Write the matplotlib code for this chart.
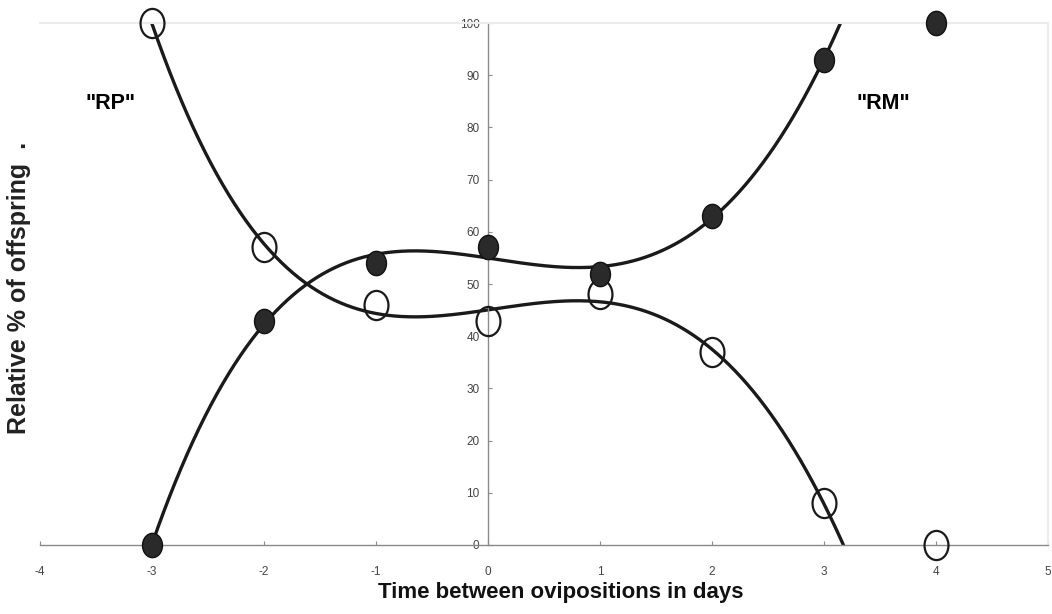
import numpy as np
import matplotlib
matplotlib.use("Agg")
import matplotlib.pyplot as plt
from matplotlib.path import Path
from matplotlib.transforms import Affine2D

# data
days = [-3, -2, -1, 0, 1, 2, 3, 4]
rp = [100, 57, 46, 43, 48, 37, 8, 0]
rm = [0, 43, 54, 57, 52, 63, 93, 100]
xticks = [-4, -3, -2, -1, 0, 1, 2, 3, 4, 5]
yticks = [0, 10, 20, 30, 40, 50, 60, 70, 80, 90, 100]

plt.rcParams['font.family'] = ['Liberation Sans', 'DejaVu Sans']
plt.rcParams['axes.unicode_minus'] = False

fig = plt.figure(figsize=(10.52, 6.14), dpi=100)
ax = fig.add_axes([0.038, 0.1124, 0.958, 0.8501])
ax.set_xlim(-4, 5)
ax.set_ylim(0, 100)

# spines through the origin, faint frame on top / right
ax.spines['left'].set_position(('data', 0))
ax.spines['bottom'].set_position(('data', 0))
for s in ['left', 'bottom']:
    ax.spines[s].set_color('#8a8a8a')
    ax.spines[s].set_linewidth(1.0)
for s in ['top', 'right']:
    ax.spines[s].set_color('#ececec')
    ax.spines[s].set_linewidth(1.5)

ax.set_xticks(xticks)
ax.set_yticks(yticks)
ax.tick_params(axis='both', colors='#8a8a8a', labelcolor='#444444',
               labelsize=8.5, length=3, direction='in')
ax.tick_params(axis='x', pad=15)
ax.tick_params(axis='y', pad=6)

# polynomial trendlines (fit to -3..3)
xx = np.linspace(-3, 4, 400)
c_rp = np.polyfit(days[:7], rp[:7], 4)
c_rm = np.polyfit(days[:7], rm[:7], 4)
ax.plot(xx, np.polyval(c_rp, xx), color='#1a1a1a', lw=2.4, zorder=2)
ax.plot(xx, np.polyval(c_rm, xx), color='#1a1a1a', lw=2.4, zorder=2)

# slightly tall elliptical markers
oval = Path.unit_circle().transformed(Affine2D().scale(0.82, 1.0))
ax.plot(days, rp, linestyle='none', marker=oval, markersize=21,
        mfc='none', mec='#1a1a1a', mew=1.6, clip_on=False, zorder=3)
ax.plot(days, rm, linestyle='none', marker=oval, markersize=17.5,
        mfc='#2a2a2a', mec='#111111', mew=1.0, clip_on=False, zorder=3)

ax.text(-3.37, 84.5, '"RP"', fontsize=15.5, fontweight='bold', ha='center', va='center')
ax.text(3.53, 84.5, '"RM"', fontsize=15.5, fontweight='bold', ha='center', va='center')

fig.text(0.533, 0.018, 'Time between ovipositions in days', fontsize=16,
         fontweight='bold', ha='center', va='bottom', color='#111111')
fig.text(0.018, 0.531, 'Relative % of offspring  .', fontsize=18,
         fontweight='bold', rotation=90, ha='center', va='center', color='#222222')

fig.savefig('out.png', dpi=100)
